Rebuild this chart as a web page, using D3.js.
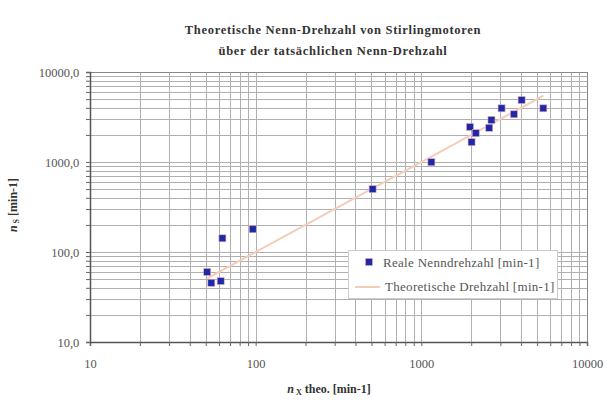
<!DOCTYPE html>
<html>
<head>
<meta charset="utf-8">
<script src="https://cdn.jsdelivr.net/npm/d3@7"></script>
<style>
  body { margin: 0; background: #fff; }
  svg { display: block; font-family: "Liberation Serif", "DejaVu Serif", serif; }
</style>
</head>
<body>
<div id="chart"></div>
<script>
// measured values: theoretical rated speed vs. real rated speed
const nTheo = [51, 54, 61.5, 63, 96, 508, 1150, 1965, 2130, 2010, 2570, 2650, 3050, 3620, 4030, 5450];
const nReal = [60, 45.5, 47.5, 142, 179, 500, 995, 2450, 2090, 1660, 2400, 2930, 3950, 3390, 4880, 3950];

const xTickLabels = ['10', '100', '1000', '10000'];
const yTickLabels = ['10,0', '100,0', '1000,0', '10000,0'];
const titleLines = ['Theoretische Nenn-Drehzahl von Stirlingmotoren', 'über der tatsächlichen Nenn-Drehzahl'];
const legendLabels = ['Reale Nenndrehzahl [min-1]', 'Theoretische Drehzahl [min-1]'];

const svgWidth = 607;
const svgHeight = 401;
const plot = { left: 90, right: 587, top: 72, bottom: 342 };

const svg = d3.select('#chart').append('svg')
  .attr('width', svgWidth)
  .attr('height', svgHeight);

const x = d3.scaleLog().domain([10, 10000]).range([plot.left, plot.right]);
const y = d3.scaleLog().domain([10, 10000]).range([plot.bottom, plot.top]);

// all 1..9 x decade positions for the grid
const gridVals = [];
for (let d = 10; d < 10000; d *= 10) {
  for (let k = 1; k < 10; k++) gridVals.push(d * k);
}
gridVals.push(10000);

// title
svg.append('g').selectAll('text')
  .data(titleLines).join('text')
  .attr('x', 333)
  .attr('y', (d, i) => 34 + i * 21)
  .attr('text-anchor', 'middle')
  .attr('font-weight', 'bold')
  .attr('font-size', 12.5)
  .attr('letter-spacing', 0.7)
  .attr('fill', '#333')
  .text(d => d);

// grid
const grid = svg.append('g').attr('stroke', '#b0b0b0').attr('stroke-width', 1);
grid.selectAll('.vx').data(gridVals).join('line')
  .attr('x1', d => Math.round(x(d)) + 0.5).attr('x2', d => Math.round(x(d)) + 0.5)
  .attr('y1', plot.top).attr('y2', plot.bottom);
grid.selectAll('.hy').data(gridVals).join('line')
  .attr('y1', d => Math.round(y(d)) + 0.5).attr('y2', d => Math.round(y(d)) + 0.5)
  .attr('x1', plot.left).attr('x2', plot.right);

// plot frame
svg.append('rect')
  .attr('x', plot.left + 0.5).attr('y', plot.top + 0.5)
  .attr('width', plot.right - plot.left).attr('height', plot.bottom - plot.top)
  .attr('fill', 'none').attr('stroke', '#888');

// axes
const xAxis = d3.axisBottom(x)
  .tickValues(gridVals)
  .tickSize(4)
  .tickFormat(d => { const i = [10, 100, 1000, 10000].indexOf(d); return i >= 0 ? xTickLabels[i] : ''; });
const gx = svg.append('g')
  .attr('transform', `translate(0,${plot.bottom})`)
  .call(xAxis);
gx.selectAll('text').attr('dy', '1.55em');

const yAxis = d3.axisLeft(y)
  .tickValues(gridVals)
  .tickSize(4)
  .tickFormat(d => { const i = [10, 100, 1000, 10000].indexOf(d); return i >= 0 ? yTickLabels[i] : ''; });
const gy = svg.append('g')
  .attr('transform', `translate(${plot.left},0)`)
  .call(yAxis);
gy.selectAll('text').attr('dx', '-0.3em');

[gx, gy].forEach(g => {
  g.select('.domain').attr('stroke', '#555').attr('stroke-width', 1.5);
  g.selectAll('.tick line').attr('stroke', '#666');
  g.selectAll('.tick text')
    .attr('font-family', '"Liberation Serif", serif')
    .attr('font-size', 12.5).attr('fill', '#555');
});

// axis titles
const xt = svg.append('text')
  .attr('x', 329).attr('y', 393)
  .attr('text-anchor', 'middle')
  .attr('font-weight', 'bold').attr('font-size', 12).attr('fill', '#333');
xt.append('tspan').attr('font-style', 'italic').text('n');
xt.append('tspan').attr('font-size', 8).attr('dy', 2).text(' X');
xt.append('tspan').attr('dy', -2).text(' theo. [min-1]');

const yt = svg.append('text')
  .attr('transform', 'translate(17,205) rotate(-90)')
  .attr('text-anchor', 'middle')
  .attr('font-weight', 'bold').attr('font-size', 12).attr('fill', '#333');
yt.append('tspan').attr('font-style', 'italic').text('n');
yt.append('tspan').attr('font-size', 8).attr('dy', 2).text(' S');
yt.append('tspan').attr('dy', -2).text('  [min-1]');

// theoretical line: n_S = n_X theo
const theoLine = nTheo.slice().sort((a, b) => a - b);
svg.append('path')
  .datum(theoLine)
  .attr('fill', 'none')
  .attr('stroke', '#f3cdb8')
  .attr('stroke-width', 2)
  .attr('d', d3.line().x(d => x(d)).y(d => y(d)));

// real points
svg.append('g').selectAll('rect')
  .data(nTheo.map((v, i) => [v, nReal[i]])).join('rect')
  .attr('x', d => x(d[0]) - 3.5).attr('y', d => y(d[1]) - 3.5)
  .attr('width', 7).attr('height', 7)
  .attr('fill', '#1c2aa6')
  .attr('stroke', '#e8a6c0').attr('stroke-width', 0.6);

// legend
const lg = svg.append('g').attr('transform', 'translate(348,250)');
lg.append('rect')
  .attr('x', 0.5).attr('y', 0.5).attr('width', 209).attr('height', 48)
  .attr('fill', '#fff').attr('stroke', '#ccc');
lg.append('rect')
  .attr('x', 17.5).attr('y', 8.5).attr('width', 7).attr('height', 7)
  .attr('fill', '#1c2aa6').attr('stroke', '#e8a6c0').attr('stroke-width', 0.6);
lg.append('line')
  .attr('x1', 7).attr('x2', 32).attr('y1', 37).attr('y2', 37)
  .attr('stroke', '#f3cdb8').attr('stroke-width', 2);
lg.selectAll('text').data(legendLabels).join('text')
  .attr('x', (d, i) => i === 0 ? 35 : 37)
  .attr('y', (d, i) => 17 + i * 24)
  .attr('font-size', 13).attr('letter-spacing', 0.3).attr('fill', '#555')
  .text(d => d);
</script>
</body>
</html>
